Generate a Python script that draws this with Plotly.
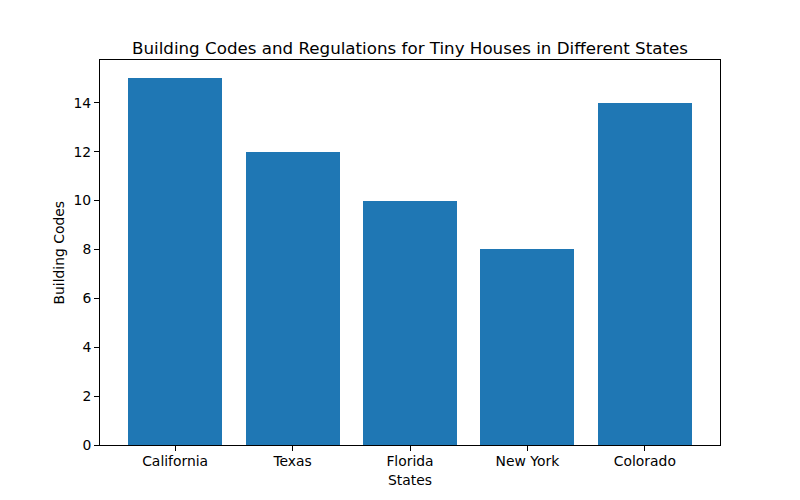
import plotly.graph_objects as go

states = ["California", "Texas", "Florida", "New York", "Colorado"]
codes = [15, 12, 10, 8, 14]
yticks = [0, 2, 4, 6, 8, 10, 12, 14]

font = "DejaVu Sans"
PLOT_W, PLOT_H = 620, 385

fig = go.Figure(go.Bar(x=list(range(len(states))), y=codes, width=0.8,
                       marker=dict(color="#1f77b4", line=dict(width=0))))
# page body has an 8px margin, so the figure starts at (8, 8)
fig.update_layout(
    width=784, height=484,
    margin=dict(l=92, r=72, t=52, b=47),
    paper_bgcolor="white", plot_bgcolor="white",
    font=dict(family=font, size=13.9, color="black"),
    title=dict(text="Building Codes and Regulations for Tiny Houses in Different States",
               x=0.5, xref="paper", y=1, yref="paper", yanchor="bottom",
               pad=dict(b=6), font=dict(size=16.7, family=font, color="black")),
    showlegend=False,
    bargap=0,
    annotations=[
        dict(text="States", xref="paper", yref="paper", x=0.5, y=-35 / PLOT_H,
             xanchor="center", yanchor="middle", showarrow=False,
             font=dict(size=13.9, family=font, color="black")),
        dict(text="Building Codes", xref="paper", yref="paper", x=-42 / PLOT_W, y=0.5,
             xanchor="center", yanchor="middle", textangle=-90, showarrow=False,
             font=dict(size=13.9, family=font, color="black")),
    ],
)
fig.update_xaxes(range=[-0.64, 4.64], tickvals=list(range(len(states))), ticktext=states,
                 showline=True, linecolor="black", linewidth=1, mirror=True,
                 ticks="outside", ticklen=5, tickcolor="black", showgrid=False,
                 zeroline=False, tickfont=dict(size=13.9), automargin=False,
                 ticklabelstandoff=-2)
fig.update_yaxes(range=[0, 15.75], tickvals=yticks,
                 showline=True, linecolor="black", linewidth=1, mirror=True,
                 ticks="outside", ticklen=5, tickcolor="black", showgrid=False,
                 zeroline=False, tickfont=dict(size=13.9), automargin=False)
fig.write_html("out.html")
